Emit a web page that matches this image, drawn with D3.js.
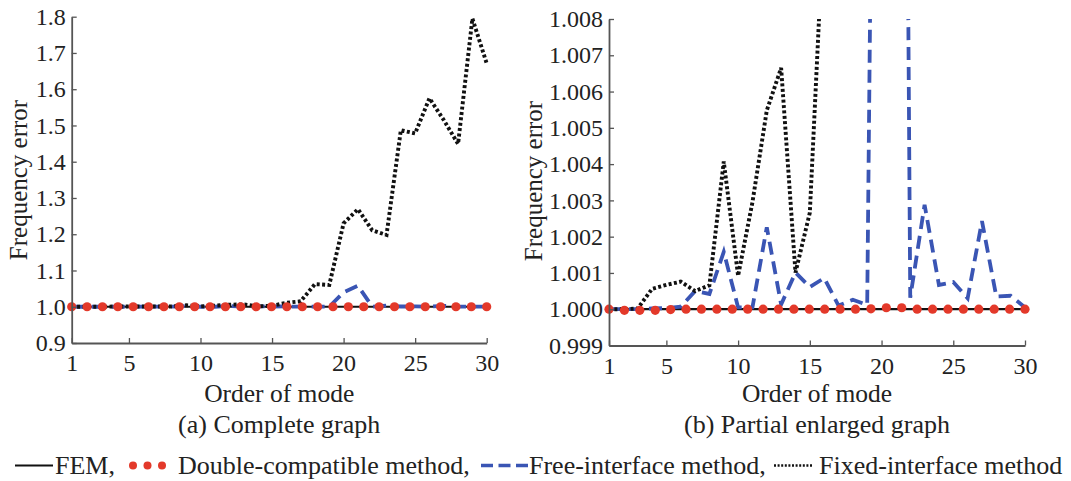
<!DOCTYPE html>
<html>
<head>
<meta charset="utf-8">
<script src="https://cdn.jsdelivr.net/npm/d3@7"></script>
<style>
  html, body { margin: 0; padding: 0; background: #fff; }
  svg { display: block; }
</style>
</head>
<body>
<svg id="chart" width="1071" height="481" font-family="Liberation Serif"></svg>
<script>
// ---------------- data ----------------
const modes = [1,2,3,4,5,6,7,8,9,10,11,12,13,14,15,16,17,18,19,20,21,22,23,24,25,26,27,28,29,30];
const femValues = [1,1,1,1,1,1,1,1,1,1,1,1,1,1,1,1,1,1,1,1,1,1,1,1,1,1,1,1,1,1];
const freeValues = [1.0000,1.0000,1.0000,1.00002,1.00003,1.00007,1.00050,1.00042,1.00158,1.00005,
                    1.00005,1.00226,1.00013,1.00101,1.00061,1.00086,1.00010,1.00026,1.00012,1.040,
                    1.058,1.00032,1.00288,1.00067,1.00075,1.00030,1.00243,1.00035,1.00037,1.00005];
const fixedValues = [1.0000,1.0000,1.00002,1.00056,1.00067,1.00076,1.00050,1.00066,1.00407,1.00092,
                     1.00295,1.00548,1.00665,1.00101,1.00266,1.0110,1.015,1.0625,1.060,1.230,
                     1.269,1.211,1.198,1.487,1.478,1.575,1.515,1.449,1.795,1.671];
// double-compatible markers (28 markers spread over modes 1..30)
const dcModes = [1,2.074,3.148,4.222,5.296,6.370,7.444,8.519,9.593,10.667,11.741,12.815,13.889,14.963,
                 16.037,17.111,18.185,19.259,20.333,21.407,22.481,23.556,24.630,25.704,26.778,27.852,28.926,30];
const dcValues = [1.0000,0.99997,0.99997,0.99997,0.99999,1.0000,1.0000,1.0000,1.0000,1.0000,1.0000,1.0000,1.0000,1.0000,
                  1.0000,1.0000,1.0000,1.00001,1.00004,1.00004,1.0000,1.0000,1.0000,1.0000,1.0000,1.0000,1.0000,1.0000];
const xTicks = [1,5,10,15,20,25,30];
const yTicksA = [0.9,1.0,1.1,1.2,1.3,1.4,1.5,1.6,1.7,1.8];
const yTicksB = [0.999,1.000,1.001,1.002,1.003,1.004,1.005,1.006,1.007,1.008];
const captions = ["(a) Complete graph", "(b) Partial enlarged graph"];
const xLabel = "Order of mode";
const yLabel = "Frequency error";
const legendItems = ["FEM,", "Double-compatible method,", "Free-interface method,", "Fixed-interface method"];

// ---------------- style ----------------
const FONT = "Liberation Serif";
const C_BLUE = "#3a55b4", C_RED = "#e3392a", C_BLACK = "#111", C_AXIS = "#555", C_TEXT = "#222";

const svg = d3.select("#chart");

const panels = [
  { left: 71.7, right: 486.7, top: 16.7, bottom: 343, domain: [0.9, 1.8], ticks: yTicksA, fmt: ".1f",
    caption: captions[0], ylabX: 19, ylabY: 180 },
  { left: 609, right: 1025, top: 19, bottom: 345.5, domain: [0.999, 1.008], ticks: yTicksB, fmt: ".3f",
    caption: captions[1], ylabX: 534, ylabY: 181 }
];

const seriesFree = modes.map((m, i) => ({ m, v: freeValues[i] }));
const seriesFixed = modes.map((m, i) => ({ m, v: fixedValues[i] }));
const seriesFem = modes.map((m, i) => ({ m, v: femValues[i] }));
const seriesDc = dcModes.map((m, i) => ({ m, v: dcValues[i] }));

function addText(sel) {
  return sel.append("text").attr("font-family", FONT).attr("fill", C_TEXT);
}

panels.forEach((p, idx) => {
  const x = d3.scaleLinear().domain([1, 30]).range([p.left, p.right]);
  const y = d3.scaleLinear().domain(p.domain).range([p.bottom, p.top]);
  const g = svg.append("g");

  const clipId = "clip" + idx;
  svg.append("clipPath").attr("id", clipId)
    .append("rect").attr("x", p.left - 6).attr("y", p.top)
    .attr("width", p.right - p.left + 12).attr("height", p.bottom - p.top);

  const line = d3.line().x(d => x(d.m)).y(d => y(d.v));
  const plot = g.append("g").attr("clip-path", `url(#${clipId})`);

  plot.append("path").datum(seriesFem).attr("d", line)
    .attr("fill", "none").attr("stroke", C_BLACK).attr("stroke-width", 2.2);
  plot.append("path").datum(seriesFree).attr("d", line)
    .attr("fill", "none").attr("stroke", C_BLUE).attr("stroke-width", 3.8)
    .attr("stroke-dasharray", "13,7");
  plot.append("path").datum(seriesFixed).attr("d", line)
    .attr("fill", "none").attr("stroke", C_BLACK).attr("stroke-width", 3.9)
    .attr("stroke-dasharray", "3,2.4");

  g.append("g").selectAll("circle").data(seriesDc).join("circle")
    .attr("cx", d => x(d.m)).attr("cy", d => y(d.v)).attr("r", 4.6)
    .attr("fill", C_RED);

  // axes
  const xAxis = d3.axisBottom(x).tickValues(xTicks).tickFormat(d3.format("d"))
    .tickSizeInner(-5).tickSizeOuter(0).tickPadding(11);
  const yAxis = d3.axisLeft(y).tickValues(p.ticks).tickFormat(d3.format(p.fmt))
    .tickSizeInner(-5).tickSizeOuter(0).tickPadding(6);

  const gx = g.append("g").attr("transform", `translate(0,${p.bottom})`).call(xAxis);
  const gy = g.append("g").attr("transform", `translate(${p.left},0)`).call(yAxis);
  [gx, gy].forEach(a => {
    a.attr("font-family", FONT).attr("font-size", 24);
    a.select(".domain").attr("stroke", C_AXIS).attr("stroke-width", 1.8);
    a.selectAll(".tick line").attr("stroke", C_AXIS).attr("stroke-width", 1.3);
    a.selectAll(".tick text").attr("font-family", FONT).attr("font-size", 24).attr("fill", C_TEXT);
  });

  // labels
  addText(g).attr("x", (p.left + p.right) / 2).attr("y", 401.5)
    .attr("text-anchor", "middle").attr("font-size", 25.5).text(xLabel);
  addText(g).attr("x", (p.left + p.right) / 2).attr("y", 433)
    .attr("text-anchor", "middle").attr("font-size", 26).text(p.caption);
  addText(g).attr("transform", `translate(${p.ylabX + 8},${p.ylabY}) rotate(-90)`)
    .attr("text-anchor", "middle").attr("font-size", 25).text(yLabel);
});

// ---------------- legend ----------------
const lg = svg.append("g");
const ly = 465.5, lb = 474;
lg.append("line").attr("x1", 15).attr("x2", 53).attr("y1", ly).attr("y2", ly)
  .attr("stroke", C_BLACK).attr("stroke-width", 2);
addText(lg).attr("x", 55).attr("y", lb).attr("font-size", 26).text(legendItems[0]);
[133, 147.5, 162].forEach(cx => lg.append("circle").attr("cx", cx).attr("cy", ly).attr("r", 4).attr("fill", C_RED));
addText(lg).attr("x", 178).attr("y", lb).attr("font-size", 26).text(legendItems[1]);
lg.append("line").attr("x1", 481).attr("x2", 528).attr("y1", ly).attr("y2", ly)
  .attr("stroke", C_BLUE).attr("stroke-width", 3.6).attr("stroke-dasharray", "12,5.5");
addText(lg).attr("x", 529).attr("y", lb).attr("font-size", 26).text(legendItems[2]);
lg.append("line").attr("x1", 774).attr("x2", 812).attr("y1", ly).attr("y2", ly)
  .attr("stroke", C_BLACK).attr("stroke-width", 2.6).attr("stroke-dasharray", "2,1.6");
addText(lg).attr("x", 819).attr("y", lb).attr("font-size", 26).text(legendItems[3]);
</script>
</body>
</html>
